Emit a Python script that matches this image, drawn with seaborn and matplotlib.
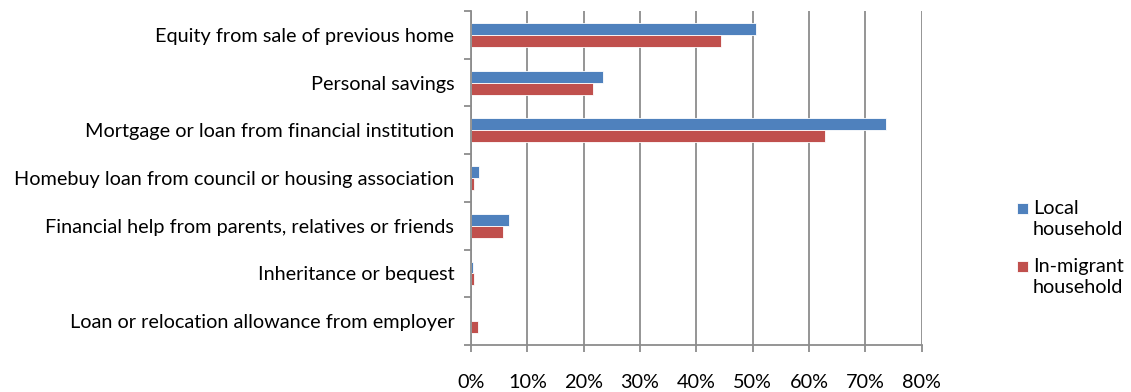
import pandas as pd
import numpy as np
import matplotlib.pyplot as plt
import seaborn as sns
from matplotlib.ticker import FixedLocator, PercentFormatter

# Chart data (share of households using each source of funds)
sources = [
    "Equity from sale of previous home",
    "Personal savings",
    "Mortgage or loan from financial institution",
    "Homebuy loan from council or housing association",
    "Financial help from parents, relatives or friends",
    "Inheritance or bequest",
    "Loan or relocation allowance from employer",
]
local = [50.6, 23.4, 73.7, 1.4, 6.7, 0.4, 0.0]
in_migrant = [44.4, 21.7, 62.8, 0.5, 5.6, 0.5, 1.2]
groups = ["Local\nhousehold", "In-migrant\nhousehold"]

df = pd.DataFrame({
    "Source": sources * 2,
    "Share": local + in_migrant,
    "Group": [groups[0]] * len(sources) + [groups[1]] * len(sources),
})

sns.set_style("white")
plt.rcParams["font.family"] = ["Lato", "DejaVu Sans"]
plt.rcParams["text.color"] = "black"

fig = plt.figure(figsize=(11.31, 3.92), dpi=100)
ax = fig.add_axes([0.4164, 0.1199, 0.3986, 0.852])

sns.barplot(
    data=df,
    y="Source",
    x="Share",
    hue="Group",
    order=sources,
    hue_order=groups,
    palette=["#4F81BD", "#C0504D"],
    saturation=1,
    width=0.5,
    orient="h",
    edgecolor="white",
    linewidth=0.6,
    ax=ax,
)

ax.set_xlim(0, 80)
ax.set_ylim(len(sources) - 0.5, -0.5)
ax.set_xticks(np.arange(0, 81, 10))
ax.xaxis.set_major_formatter(PercentFormatter(decimals=0))
ax.grid(axis="x", color="#8c8c8c", linewidth=1.3)
ax.set_axisbelow(True)

# tick marks between categories on the y axis
ax.yaxis.set_minor_locator(FixedLocator(np.arange(-0.5, len(sources), 1)))
ax.tick_params(axis="y", which="major", length=0, pad=12, labelsize=14.3, labelcolor="black")
ax.tick_params(axis="y", which="minor", left=True, length=5, width=1.3, color="#8c8c8c")
ax.tick_params(axis="x", which="major", bottom=True, length=5, width=1.3,
               color="#8c8c8c", pad=16, labelsize=14.3, labelcolor="black")

ax.set_xlabel("")
ax.set_ylabel("")
for side in ["top", "right"]:
    ax.spines[side].set_visible(False)
for side in ["left", "bottom"]:
    ax.spines[side].set_color("#8c8c8c")
    ax.spines[side].set_linewidth(1.3)

handles, labels = ax.get_legend_handles_labels()
ax.get_legend().remove()
leg = fig.legend(
    handles, labels,
    loc="upper left",
    bbox_to_anchor=(0.899, 0.49),
    frameon=False,
    borderpad=0,
    borderaxespad=0,
    fontsize=14.3,
    handlelength=0.55,
    handleheight=0.5,
    handletextpad=0.25,
    labelspacing=1.0,
)
for t in leg.get_texts():
    t.set_linespacing(1.3)
# put the colour square next to the first line of each label
for h in leg.legend_handles:
    h.set_y(h.get_y() + 7.5)

plt.savefig("out.png", dpi=100)
